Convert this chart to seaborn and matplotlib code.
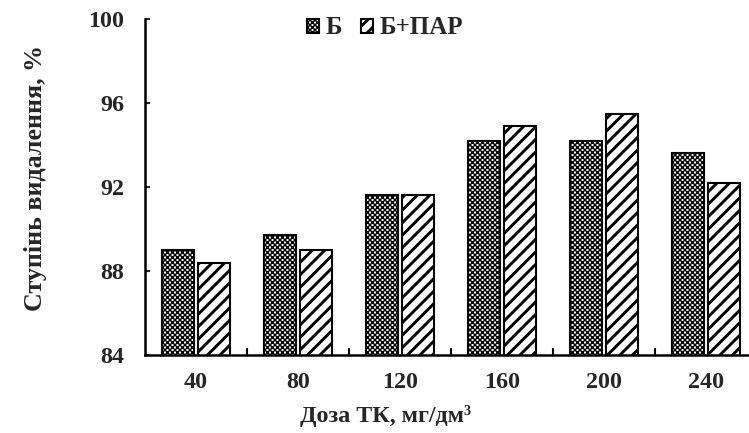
import matplotlib
matplotlib.use("Agg")
import matplotlib.pyplot as plt
import seaborn as sns
import pandas as pd

doses = ["40", "80", "120", "160", "200", "240"]
b_values = [89.0, 89.7, 91.6, 94.2, 94.2, 93.6]
b_par_values = [88.4, 89.0, 91.6, 94.9, 95.5, 92.2]
series = ["Б", "Б+ПАР"]
y_ticks = [84, 88, 92, 96, 100]

df = pd.DataFrame({
    "dose": doses * 2,
    "value": b_values + b_par_values,
    "series": [series[0]] * len(doses) + [series[1]] * len(doses),
})

DPI = 150
sns.set_theme(style="white")
plt.rcParams["font.family"] = ["Liberation Serif", "DejaVu Serif"]
plt.rcParams["font.weight"] = "bold"

fig, ax = plt.subplots(figsize=(749 / DPI, 433 / DPI), dpi=DPI)
fig.subplots_adjust(left=145 / 749, right=1.0, top=1 - 19 / 433, bottom=1 - 355 / 433)

sns.barplot(data=df, x="dose", y="value", hue="series", order=doses,
            hue_order=series, palette=["white", "white"], width=0.7,
            edgecolor="black", linewidth=1.0, ax=ax, legend=True)

hatches = ["x" * 10, "////"]
hatch_lw = [0.7, 1.4]
for cont, h, hl in zip(ax.containers, hatches, hatch_lw):
    for bar in cont:
        bar.set_hatch(h)
        if hasattr(bar, "set_hatch_linewidth"):
            bar.set_hatch_linewidth(hl)
        w = bar.get_width()
        bar.set_width(w * 0.91)
        bar.set_x(bar.get_x() + w * 0.045)

ax.set_ylim(84, 100)
ax.set_yticks(y_ticks)
ax.set_xlim(-0.5, -0.5 + 604 / 102)
ax.set_xlabel("Доза ТК, мг/дм³", fontsize=11.5, fontweight="bold")
ax.set_ylabel("Ступінь видалення, %", fontsize=12.5, fontweight="bold")
ax.xaxis.set_label_coords((386 - 145) / 604, -(405 - 355) / 336)
ax.yaxis.set_label_coords(-(145 - 47) / 604, (355 - 178) / 336)
ax.tick_params(axis="x", length=0, labelsize=11.5, pad=8)
ax.tick_params(axis="y", direction="in", length=2.4, width=1.0, labelsize=11.5,
               pad=10, left=True)
for lbl in ax.get_xticklabels() + ax.get_yticklabels():
    lbl.set_fontweight("bold")

# boundary ticks between dose groups on the x axis
for xb in [0.5, 1.5, 2.5, 3.5, 4.5]:
    ax.plot([xb, xb], [84, 84.3], color="black", lw=1.0, clip_on=False)

for side in ["top", "right"]:
    ax.spines[side].set_visible(False)
for side in ["left", "bottom"]:
    ax.spines[side].set_color("black")
    ax.spines[side].set_linewidth(1.2)

leg = ax.legend(loc="center", bbox_to_anchor=((385 - 145) / 604, 1 - (28 - 19) / 336),
                ncol=2, frameon=False, prop={"weight": "bold", "size": 12},
                handlelength=0.5, handleheight=0.5, handletextpad=0.25,
                columnspacing=0.75, borderpad=0)
for patch, h, hl in zip(leg.get_patches(), hatches, hatch_lw):
    patch.set_hatch(h)
    patch.set_edgecolor("black")
    if hasattr(patch, "set_hatch_linewidth"):
        patch.set_hatch_linewidth(hl)

fig.savefig("out.png", dpi=DPI)
